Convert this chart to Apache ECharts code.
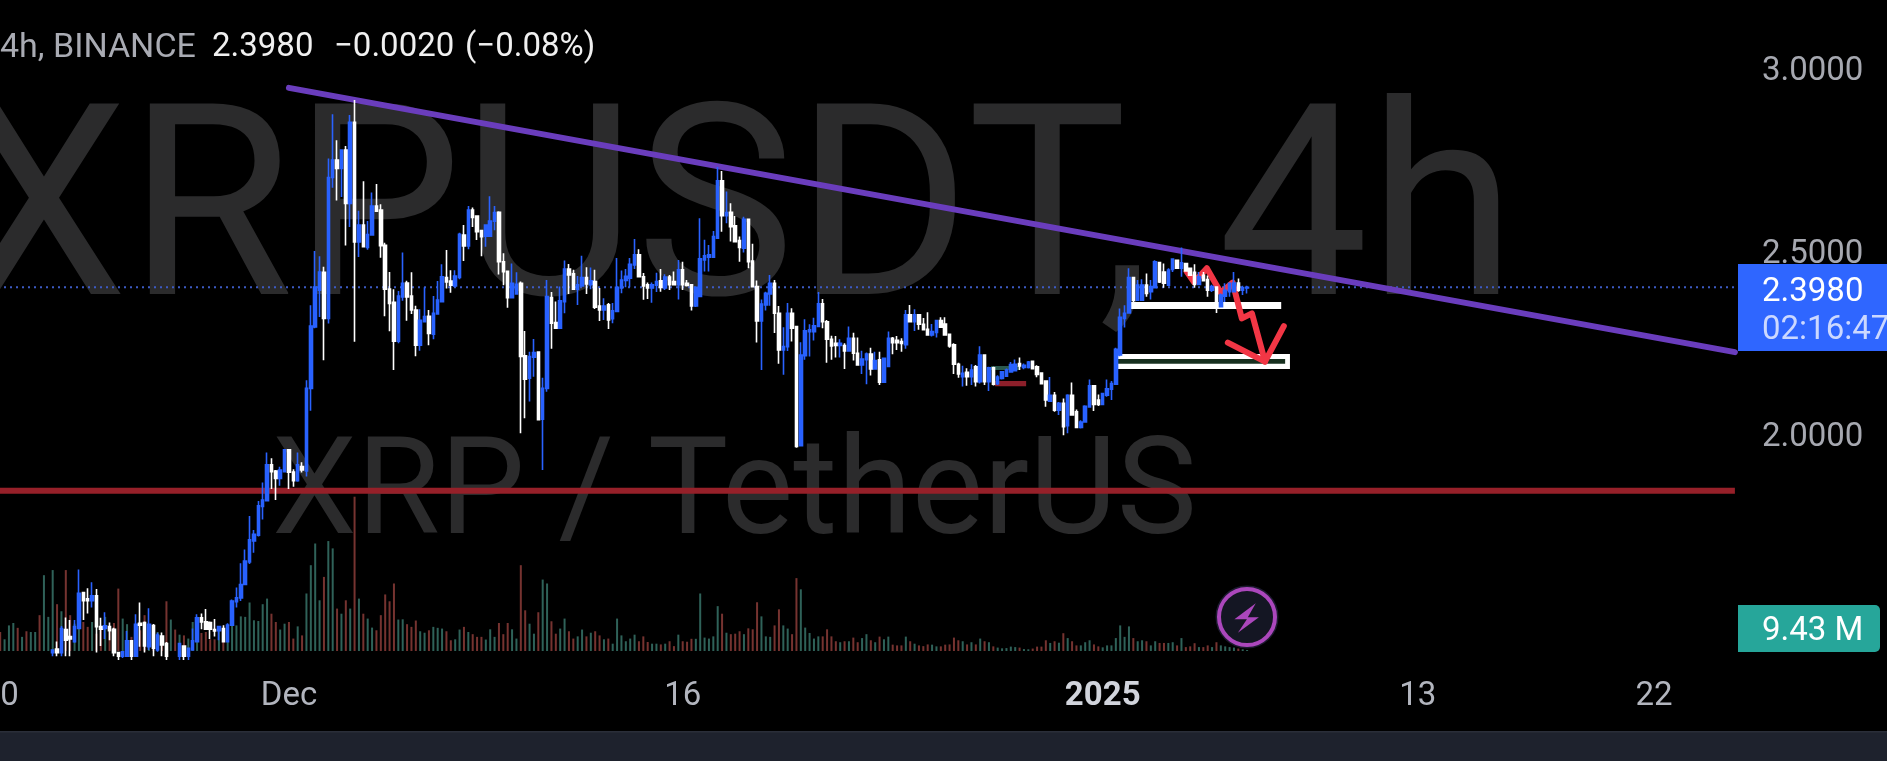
<!DOCTYPE html>
<html>
<head>
<meta charset="utf-8">
<style>html,body{margin:0;padding:0;background:#000;overflow:hidden}#c{width:1887px;height:761px}</style>
<script src="https://cdn.jsdelivr.net/npm/echarts@6/dist/echarts.min.js"></script>
</head>
<body>
<div id="c"></div>
<script>
// [open, high, low, close], one row per 4h candle; the first twelve sit below the visible window
const ohlc = [
[1.39,1.395,1.37,1.38],[1.38,1.39,1.375,1.385],[1.385,1.395,1.38,1.39],[1.385,1.395,1.38,1.39],[1.39,1.395,1.37,1.38],
[1.38,1.39,1.375,1.385],[1.39,1.395,1.37,1.38],[1.38,1.39,1.375,1.385],[1.38,1.39,1.375,1.388],[1.39,1.395,1.37,1.38],
[1.38,1.39,1.375,1.385],[1.385,1.395,1.38,1.392],
[1.40,1.408,1.39,1.407],[1.41,1.430,1.39,1.40],[1.40,1.473,1.39,1.466],[1.463,1.496,1.39,1.434],[1.444,1.489,1.39,1.437],
[1.430,1.489,1.427,1.471],[1.466,1.627,1.466,1.562],[1.564,1.564,1.489,1.542],[1.547,1.576,1.507,1.542],[1.542,1.592,1.523,1.555],
[1.555,1.574,1.40,1.471],[1.471,1.495,1.418,1.464],[1.466,1.510,1.437,1.473],[1.471,1.482,1.434,1.460],[1.464,1.468,1.39,1.40],
[1.40,1.402,1.38,1.39],[1.39,1.402,1.385,1.402],[1.39,1.459,1.39,1.432],[1.432,1.432,1.38,1.39],[1.39,1.505,1.39,1.477],
[1.480,1.537,1.416,1.475],[1.482,1.485,1.40,1.418],[1.416,1.521,1.407,1.477],[1.474,1.478,1.39,1.412],[1.407,1.454,1.402,1.448],
[1.445,1.455,1.39,1.421],[1.425,1.429,1.38,1.39],[1.38,1.39,1.37,1.385],[1.385,1.39,1.37,1.38],[1.39,1.425,1.38,1.425],
[1.418,1.418,1.38,1.39],[1.39,1.412,1.38,1.412],[1.407,1.466,1.405,1.432],[1.430,1.505,1.430,1.495],[1.495,1.507,1.464,1.484],
[1.484,1.519,1.464,1.464],[1.482,1.485,1.437,1.464],[1.463,1.492,1.444,1.459],[1.460,1.473,1.434,1.471],[1.466,1.475,1.430,1.430],
[1.430,1.480,1.430,1.475],[1.475,1.545,1.473,1.541],[1.539,1.578,1.523,1.550],[1.549,1.644,1.541,1.586],[1.586,1.682,1.586,1.650],
[1.648,1.773,1.642,1.708],[1.705,1.735,1.673,1.723],[1.721,1.814,1.717,1.801],[1.799,1.865,1.764,1.817],[1.815,1.947,1.815,1.913],
[1.913,1.931,1.847,1.894],[1.896,1.899,1.817,1.876],[1.876,1.908,1.856,1.899],[1.894,1.955,1.894,1.954],[1.954,1.956,1.847,1.893],
[1.893,1.901,1.853,1.870],[1.870,1.947,1.867,1.913],[1.908,1.920,1.892,1.899],[1.896,2.144,1.881,2.122],[2.122,2.349,2.061,2.292],
[2.290,2.497,2.286,2.399],[2.390,2.483,2.317,2.440],[2.439,2.454,2.199,2.313],[2.313,2.750,2.299,2.698],[2.698,2.871,2.670,2.746],
[2.746,2.800,2.635,2.723],[2.723,2.775,2.645,2.773],[2.773,2.784,2.512,2.627],[2.627,2.869,2.563,2.849],[2.849,2.910,2.249,2.522],
[2.522,2.607,2.481,2.568],[2.568,2.688,2.509,2.509],[2.507,2.579,2.501,2.542],[2.541,2.657,2.539,2.620],[2.620,2.680,2.606,2.606],
[2.609,2.625,2.479,2.512],[2.513,2.520,2.319,2.393],[2.393,2.440,2.278,2.354],[2.357,2.393,2.172,2.251],[2.251,2.388,2.245,2.374],
[2.372,2.493,2.361,2.409],[2.410,2.416,2.307,2.372],[2.374,2.439,2.325,2.336],[2.336,2.348,2.210,2.240],[2.240,2.338,2.225,2.308],
[2.304,2.398,2.302,2.318],[2.319,2.336,2.240,2.272],[2.270,2.374,2.256,2.327],[2.325,2.415,2.325,2.363],[2.359,2.461,2.359,2.427],
[2.425,2.500,2.395,2.413],[2.415,2.445,2.383,2.404],[2.402,2.445,2.399,2.429],[2.425,2.547,2.420,2.543],[2.541,2.568,2.470,2.511],
[2.511,2.620,2.502,2.609],[2.609,2.616,2.563,2.589],[2.593,2.593,2.527,2.550],[2.553,2.554,2.483,2.536],[2.538,2.568,2.509,2.568],
[2.538,2.647,2.538,2.579],[2.579,2.620,2.554,2.602],[2.603,2.606,2.433,2.468],[2.468,2.491,2.404,2.441],[2.442,2.442,2.342,2.370],
[2.370,2.463,2.368,2.409],[2.380,2.439,2.380,2.406],[2.409,2.414,1.999,2.209],[2.211,2.279,2.040,2.147],[2.150,2.222,2.086,2.209],
[2.207,2.257,2.154,2.220],[2.221,2.223,2.034,2.036],[2.038,2.151,1.899,2.122],[2.122,2.418,2.113,2.373],[2.370,2.385,2.230,2.300],
[2.302,2.359,2.286,2.286],[2.286,2.400,2.284,2.361],[2.359,2.471,2.327,2.448],[2.448,2.462,2.380,2.432],[2.435,2.446,2.393,2.393],
[2.393,2.429,2.350,2.405],[2.402,2.484,2.400,2.425],[2.425,2.453,2.380,2.407],[2.405,2.452,2.393,2.416],[2.414,2.446,2.339,2.344],
[2.347,2.396,2.306,2.336],[2.336,2.368,2.309,2.347],[2.350,2.355,2.284,2.309],[2.312,2.355,2.300,2.334],[2.332,2.478,2.332,2.398],
[2.396,2.444,2.382,2.418],[2.417,2.448,2.398,2.428],[2.423,2.478,2.398,2.461],[2.459,2.530,2.448,2.487],[2.487,2.502,2.427,2.427],
[2.427,2.437,2.364,2.402],[2.405,2.411,2.366,2.396],[2.396,2.411,2.356,2.405],[2.404,2.438,2.385,2.414],[2.416,2.448,2.386,2.398],
[2.396,2.434,2.391,2.426],[2.426,2.432,2.391,2.405],[2.414,2.441,2.405,2.405],[2.405,2.473,2.365,2.446],[2.446,2.468,2.391,2.405],
[2.409,2.418,2.400,2.403],[2.405,2.407,2.335,2.347],[2.347,2.400,2.344,2.398],[2.373,2.587,2.373,2.476],[2.473,2.528,2.441,2.484],
[2.480,2.514,2.441,2.487],[2.480,2.552,2.480,2.537],[2.532,2.727,2.532,2.689],[2.689,2.716,2.550,2.594],[2.594,2.660,2.573,2.602],
[2.603,2.628,2.523,2.564],[2.566,2.593,2.523,2.523],[2.526,2.537,2.468,2.507],[2.505,2.591,2.493,2.584],[2.584,2.584,2.450,2.468],
[2.470,2.517,2.400,2.400],[2.400,2.417,2.247,2.306],[2.306,2.365,2.172,2.352],[2.350,2.386,2.335,2.382],[2.380,2.432,2.348,2.409],
[2.409,2.418,2.273,2.327],[2.327,2.347,2.189,2.227],[2.227,2.289,2.159,2.236],[2.236,2.355,2.224,2.327],[2.327,2.341,2.250,2.286],
[2.291,2.293,1.960,1.963],[1.965,2.248,1.963,2.213],[2.211,2.311,2.200,2.279],[2.277,2.297,2.209,2.282],[2.277,2.315,2.253,2.293],
[2.291,2.385,2.291,2.353],[2.353,2.366,2.286,2.304],[2.304,2.309,2.192,2.256],[2.256,2.266,2.200,2.238],[2.245,2.265,2.206,2.239],
[2.239,2.256,2.206,2.245],[2.239,2.245,2.175,2.224],[2.224,2.291,2.223,2.259],[2.259,2.274,2.198,2.218],[2.218,2.261,2.186,2.186],
[2.186,2.225,2.161,2.202],[2.200,2.220,2.133,2.216],[2.216,2.233,2.157,2.175],[2.175,2.222,2.175,2.198],[2.200,2.222,2.131,2.139],
[2.139,2.204,2.139,2.204],[2.182,2.277,2.182,2.259],[2.259,2.262,2.215,2.247],[2.253,2.265,2.227,2.247],[2.250,2.259,2.222,2.245],
[2.241,2.336,2.230,2.323],[2.323,2.350,2.304,2.304],[2.304,2.338,2.279,2.323],[2.323,2.323,2.282,2.297],[2.297,2.314,2.280,2.282],
[2.283,2.330,2.266,2.268],[2.268,2.298,2.264,2.277],[2.275,2.309,2.261,2.307],[2.307,2.316,2.289,2.289],[2.298,2.316,2.266,2.268],
[2.270,2.271,2.233,2.238],[2.241,2.245,2.161,2.188],[2.188,2.192,2.151,2.161],[2.154,2.184,2.127,2.163],[2.166,2.177,2.129,2.154],
[2.154,2.188,2.131,2.172],[2.181,2.186,2.127,2.140],[2.140,2.237,2.135,2.213],[2.213,2.215,2.131,2.140],[2.140,2.181,2.115,2.178],
[2.178,2.181,2.130,2.133],[2.135,2.158,2.131,2.153],[2.149,2.169,2.146,2.167],[2.155,2.176,2.153,2.172],[2.167,2.194,2.167,2.187],
[2.170,2.201,2.170,2.188],[2.190,2.206,2.172,2.183],[2.179,2.190,2.174,2.185],[2.179,2.197,2.176,2.194],[2.196,2.197,2.176,2.176],
[2.181,2.185,2.152,2.160],[2.164,2.164,2.133,2.135],[2.142,2.142,2.072,2.090],[2.087,2.153,2.085,2.103],[2.103,2.112,2.058,2.062],
[2.062,2.085,2.049,2.081],[2.081,2.094,1.994,2.017],[2.020,2.106,1.999,2.103],[2.103,2.138,2.049,2.049],[2.058,2.064,2.014,2.015],
[2.015,2.035,2.012,2.030],[2.030,2.076,2.028,2.073],[2.071,2.146,2.071,2.129],[2.129,2.129,2.060,2.078],[2.090,2.105,2.074,2.078],
[2.078,2.110,2.078,2.108],[2.103,2.146,2.099,2.121],[2.120,2.142,2.090,2.135],[2.133,2.233,2.131,2.229],[2.213,2.340,2.210,2.316],
[2.313,2.349,2.288,2.327],[2.328,2.450,2.328,2.425],[2.425,2.425,2.358,2.363],[2.363,2.418,2.363,2.404],[2.363,2.420,2.363,2.404],
[2.404,2.436,2.372,2.381],[2.386,2.418,2.365,2.400],[2.397,2.472,2.397,2.468],[2.466,2.468,2.410,2.413],[2.440,2.463,2.397,2.409],
[2.404,2.450,2.402,2.445],[2.447,2.477,2.440,2.475],[2.472,2.472,2.450,2.450],[2.450,2.507,2.427,2.465],[2.463,2.465,2.443,2.443],
[2.450,2.452,2.431,2.431],[2.439,2.461,2.397,2.406],[2.406,2.440,2.406,2.427],[2.431,2.440,2.416,2.416],[2.419,2.430,2.372,2.390],
[2.390,2.405,2.385,2.400],[2.399,2.401,2.328,2.345],[2.345,2.381,2.345,2.377],[2.374,2.409,2.358,2.390],[2.386,2.410,2.372,2.409],
[2.386,2.440,2.386,2.410],[2.410,2.422,2.386,2.390],[2.390,2.402,2.377,2.397],[2.396,2.402,2.381,2.398]
];
// volume in millions, same order as ohlc
const volumes = [
7.8,4.8,10.5,11.5,9.5,5.8,8.1,7.8,7.8,14.7,31.1,14.0,33.2,19.2,16.3,33.2,14.7,11.2,19.0,11.9,
9.9,11.9,7.1,9.9,14.0,7.8,11.5,25.6,13.3,11.0,5.8,6.4,8.5,14.7,9.9,7.1,7.8,5.8,20.4,12.9,
8.8,6.7,6.4,5.1,11.9,14.0,7.4,7.8,4.8,4.8,8.5,4.7,8.5,10.5,10.5,14.2,14.0,19.9,12.6,12.3,
19.2,21.5,15.3,11.9,8.8,11.2,11.9,5.1,10.1,6.4,23.6,35.2,44.1,20.8,30.4,45.1,42.1,17.4,15.3,20.8,
17.4,63.3,21.5,15.3,13.3,9.6,8.5,14.7,23.2,20.4,27.7,12.9,13.0,11.0,9.9,12.5,8.1,7.5,8.5,9.9,
9.5,9.2,8.1,4.4,4.8,8.8,9.9,7.8,6.9,5.8,5.8,4.7,8.9,5.8,11.5,6.9,11.5,8.9,5.1,35.2,
16.7,11.2,7.1,15.9,29.3,27.7,12.2,7.1,9.2,13.3,8.1,5.1,6.0,8.8,6.0,7.5,8.1,6.4,4.8,5.1,
3.0,13.3,6.4,4.0,5.1,6.7,4.0,6.0,3.7,3.0,3.0,2.7,3.0,4.0,2.0,6.7,4.0,3.8,5.0,5.0,
23.6,5.5,5.1,6.0,18.4,15.3,7.5,6.9,7.1,8.1,6.9,9.3,8.9,20.0,14.2,6.0,5.8,10.5,17.1,10.5,
9.2,6.9,29.9,25.3,9.6,7.4,5.1,6.0,6.0,8.9,6.0,4.0,3.6,4.0,4.0,5.5,3.6,5.3,6.9,4.4,
3.6,5.9,4.8,5.9,2.6,2.3,2.3,5.9,4.0,3.0,2.3,2.0,2.7,2.6,1.9,1.9,2.6,2.7,5.5,4.4,
4.0,2.7,3.6,2.7,5.1,4.0,3.6,1.9,1.4,1.1,1.2,1.8,1.6,1.4,0.8,0.7,1.0,1.8,1.8,4.4,
3.3,4.0,3.4,7.3,5.3,4.0,2.3,2.3,3.6,4.4,2.7,1.9,1.5,2.3,2.3,5.3,10.5,5.8,10.1,5.3,
4.0,4.4,4.0,2.3,4.0,3.3,3.3,3.3,3.6,2.3,5.3,1.6,1.9,3.2,1.6,1.6,2.3,1.6,3.6,2.3,
1.9,1.6,1.4,1.0,0.7,0.4
];
// x axis: candle index of each date label, and the label itself
const tickIndexes = [0, 66, 156, 252, 324, 378];
const tickLabels = ['20', 'Dec', '16', '2025', '13', '22'];
const slotCount = 397;
const priceTicks = [2, 2.5, 3];
const lastPrice = 2.398;
const supportLevel = 1.842;
// drawings, in [candle index, price]
const trendLine = [[66, 2.943], [396.5, 2.221]];
const arrowPath = [[271.2,2.441],[272.9,2.412],[275.8,2.450],[279.0,2.383],[281.7,2.411],[283.8,2.313],[286.1,2.327],[289.1,2.195]];
const arrowHead = [[280.6,2.247],[289.1,2.195],[293.4,2.292]];
// rectangles: [from index, to index, price a, price b]
const whiteBoxes = [[258.2,292.8,2.358,2.339],[255.5,294.8,2.216,2.175]];
const darkGreenBoxes = [[255.5,293.7,2.202,2.189]];
const tealBoxes = [[226.5,232.9,2.183,2.172]];
const redBoxes = [[227.4,234.5,2.142,2.128]];

const FONT = 'Roboto';
const categories = Array.from({length: slotCount}, (_, i) => String(i));
const candleData = ohlc.map(r => [r[0], r[3], r[2], r[1]]);
const volumeData = volumes.map((v, i) => ({
  value: v,
  itemStyle: {color: ohlc[i][3] >= ohlc[i][0] ? '#2f6259' : '#763330'}
}));
const flat = (y) => [[-0.5, y], [396.5, y]];
const lineSeries = (name, data, color, width, z, extra) => Object.assign({
  name, type: 'line', xAxisIndex: 2, yAxisIndex: 0, data, symbol: 'none', silent: true, z,
  lineStyle: Object.assign({color, width, cap: 'round', join: 'round'}, extra || {})
});
const rectSeries = (name, data, color, z) => ({
  name, type: 'custom', xAxisIndex: 2, yAxisIndex: 0, data, silent: true, z, clip: true,
  encode: {x: [0, 1], y: [2, 3]},
  renderItem: (params, api) => {
    const a = api.coord([api.value(0), api.value(2)]);
    const b = api.coord([api.value(1), api.value(3)]);
    return {type: 'rect', shape: {x: a[0], y: a[1], width: b[0] - a[0], height: b[1] - a[1]}, style: {fill: color}};
  }
});
const txt = (x, y, text, fill, size, extra) => ({
  type: 'text', x, y, z: 100,
  style: Object.assign({text, fill, font: (extra && extra.weight || 'normal') + ' ' + size + 'px ' + FONT, textVerticalAlign: 'middle', textAlign: 'left'}, extra || {})
});

const chart = echarts.init(document.getElementById('c'), null, {renderer: 'canvas', width: 1887, height: 761});
chart.setOption({
  backgroundColor: '#000',
  animation: false,
  tooltip: {show: false},
  grid: [
    {left: -2, width: 1736.9, top: -6.2, height: 658.8, containLabel: false, outerBoundsMode: 'none'},
    {left: -2, width: 1736.9, top: 456, height: 195, containLabel: false, outerBoundsMode: 'none'}
  ],
  xAxis: [
    {type: 'category', gridIndex: 0, data: categories, boundaryGap: true,
     axisLine: {show: false}, axisTick: {show: false}, splitLine: {show: false},
     axisLabel: {
       show: true, margin: 28, hideOverlap: false, showMinLabel: true,
       interval: (i) => tickIndexes.includes(i),
       formatter: (v, i) => {
         const k = tickIndexes.indexOf(Number(v));
         if (k < 0) return '';
         const t = tickLabels[k];
         return t === '2025' ? '{b|' + t + '}' : t;
       },
       color: '#b2b5be', fontFamily: FONT, fontSize: 33,
       rich: {b: {fontFamily: FONT, fontSize: 33, fontWeight: 'bold', color: '#d1d4dc'}}
     }},
    {type: 'category', gridIndex: 1, data: categories, boundaryGap: true, show: false},
    {type: 'value', gridIndex: 0, min: -0.5, max: 396.5, show: false}
  ],
  yAxis: [
    {type: 'value', gridIndex: 0, min: 1.4, max: 3.2, interval: 0.1, position: 'right',
     axisLine: {show: false}, axisTick: {show: false}, splitLine: {show: false},
     axisLabel: {
       margin: 27, color: '#a6a8b0', fontFamily: FONT, fontSize: 33,
       rich: {p: {fontFamily: FONT, fontSize: 33, color: '#a6a8b0', padding: [10, 0, 0, 0]}},
       formatter: (v) => priceTicks.some(t => Math.abs(t - v) < 1e-6) ? '{p|' + v.toFixed(4) + '}' : ''
     }},
    {type: 'value', gridIndex: 1, min: 0, max: 80, interval: 20, show: false}
  ],
  series: [
    {name: 'Volume', type: 'bar', xAxisIndex: 1, yAxisIndex: 1, data: volumeData, barWidth: 2, silent: true, z: 1},
    lineSeries('Support', flat(supportLevel), '#962029', 6, 2, {cap: 'butt'}),
    lineSeries('Last price', flat(lastPrice), '#3d5bc4', 2, 2, {type: [2, 4], cap: 'butt'}),
    lineSeries('Trend line', trendLine, '#6a3dbd', 6, 3),
    rectSeries('Box white', whiteBoxes, '#ffffff', 3),
    rectSeries('Box dark', darkGreenBoxes, '#17301f', 3.1),
    rectSeries('Box teal', tealBoxes, '#2b5a4f', 3),
    rectSeries('Box red', redBoxes, '#8c1f2a', 3),
    lineSeries('Arrow', arrowPath, '#f23645', 6, 4),
    lineSeries('Arrow head', arrowHead, '#f23645', 6, 4),
    {name: 'XRPUSDT', type: 'candlestick', xAxisIndex: 0, yAxisIndex: 0, data: candleData, barWidth: 3, silent: true, z: 5,
     itemStyle: {color: '#2962ff', color0: '#ffffff', borderColor: '#2962ff', borderColor0: '#ffffff', borderWidth: 1.6}}
  ],
  graphic: {elements: [
    {type: 'text', x: 1516, y: 227, z: -10, silent: true,
     style: {text: 'XRPUSDT, 4h', fill: '#2b2b2c', font: 'normal 268px ' + FONT, textAlign: 'right', textVerticalAlign: 'middle'}},
    {type: 'text', x: 272, y: 499, z: -10, silent: true,
     style: {text: 'XRP / TetherUS', fill: '#2b2b2c', font: 'normal 135px ' + FONT, textAlign: 'left', textVerticalAlign: 'middle'}},
    txt(0, 48, '4h, BINANCE', '#a9abb3', 34),
    txt(212, 48, '2.3980', '#f0f0f0', 33),
    txt(334, 48, '\u22120.0020', '#f0f0f0', 33),
    txt(465, 48, '(\u22120.08%)', '#f0f0f0', 33),
    {type: 'rect', z: 90, shape: {x: 0, y: 732, width: 1887, height: 29}, style: {fill: '#1e222d'}},
    {type: 'rect', z: 91, shape: {x: 0, y: 731, width: 1887, height: 1.5}, style: {fill: '#2a2e39'}},
    {type: 'rect', z: 90, shape: {x: 1738, y: 264, width: 149, height: 87}, style: {fill: '#2f66ff'}},
    txt(1762, 293, '2.3980', '#ffffff', 33),
    txt(1762, 331, '02:16:47', '#ccd8ff', 33),
    {type: 'rect', z: 90, shape: {x: 1738, y: 605, width: 142, height: 47, r: [0, 5, 5, 0]}, style: {fill: '#26a69a'}},
    txt(1762, 632, '9.43 M', '#ffffff', 33),
    {type: 'circle', z: 95, shape: {cx: 1247, cy: 617, r: 29}, style: {fill: '#141623', stroke: '#1d1a30', lineWidth: 5}},
    {type: 'circle', z: 96, shape: {cx: 1247, cy: 617, r: 28}, style: {fill: '#141623', stroke: '#ab47bc', lineWidth: 4}},
    {type: 'polygon', z: 97, shape: {points: [[1255.8,603.3],[1234.4,619.3],[1246.9,619.3],[1237.9,632.7],[1258.9,617.3],[1247.8,617.3]]}, style: {fill: '#ab47bc'}}
  ]}
});
</script>
</body>
</html>
